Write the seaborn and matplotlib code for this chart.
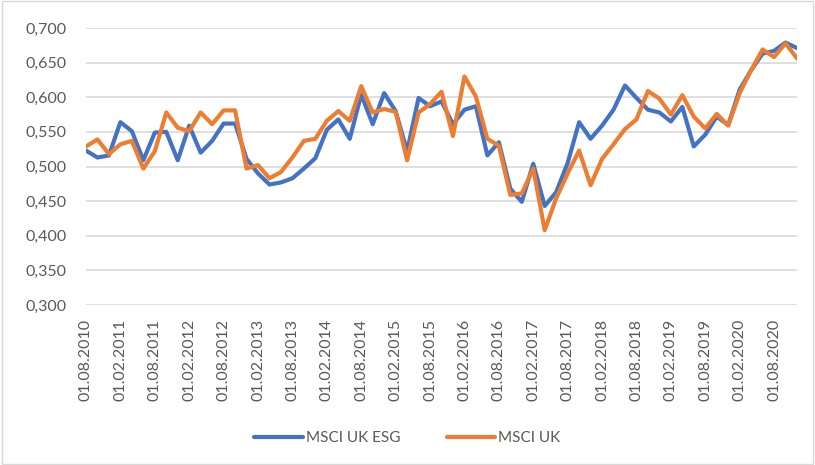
import matplotlib
matplotlib.use("Agg")
import matplotlib.pyplot as plt
from matplotlib.patches import Rectangle
from matplotlib.ticker import FuncFormatter
import pandas as pd
import seaborn as sns

# bimonthly observations, Aug 2010 .. Dec 2020
dates = pd.date_range("2010-08-01", "2020-12-01", freq="2MS")
date_labels = [d.strftime("%d.%m.%Y") for d in dates]

msci_uk_esg = [0.523, 0.513, 0.516, 0.564, 0.551, 0.509, 0.549, 0.550, 0.509, 0.559,
               0.520, 0.537, 0.562, 0.562, 0.511, 0.490, 0.474, 0.477, 0.483, 0.497,
               0.512, 0.553, 0.568, 0.540, 0.604, 0.561, 0.606, 0.580, 0.522, 0.599,
               0.587, 0.594, 0.561, 0.582, 0.587, 0.516, 0.535, 0.468, 0.449, 0.504,
               0.443, 0.463, 0.505, 0.564, 0.540, 0.559, 0.582, 0.617, 0.599, 0.582,
               0.578, 0.565, 0.586, 0.529, 0.546, 0.572, 0.560, 0.611, 0.639, 0.663,
               0.667, 0.679, 0.671]
msci_uk = [0.529, 0.539, 0.518, 0.532, 0.537, 0.497, 0.522, 0.578, 0.556, 0.551,
           0.578, 0.561, 0.581, 0.581, 0.497, 0.502, 0.483, 0.492, 0.513, 0.537,
           0.540, 0.566, 0.580, 0.566, 0.616, 0.578, 0.583, 0.579, 0.509, 0.578,
           0.590, 0.608, 0.544, 0.630, 0.601, 0.540, 0.530, 0.459, 0.461, 0.497,
           0.408, 0.454, 0.490, 0.523, 0.473, 0.511, 0.532, 0.554, 0.568, 0.609,
           0.598, 0.575, 0.603, 0.572, 0.555, 0.576, 0.559, 0.606, 0.639, 0.669,
           0.658, 0.678, 0.656]

series_names = ["MSCI UK ESG", "MSCI UK"]
colors = ["#4472C4", "#ED7D31"]

sns.set_style("white")
plt.rcParams["font.family"] = ["Lato", "DejaVu Sans"]
text_color = "#595959"

fig = plt.figure(figsize=(8.15, 4.65), dpi=100)
ax = fig.add_axes([86 / 815, 1 - 305 / 465, (797 - 86) / 815, (305 - 28) / 465])

idx = list(range(len(dates)))
for name, vals, c in zip(series_names, [msci_uk_esg, msci_uk], colors):
    sns.lineplot(x=idx, y=vals, ax=ax, color=c, linewidth=3.0, label=name)

ax.set_xlim(0, len(dates) - 1)
ax.set_ylim(0.3, 0.7)
ax.set_yticks([0.3 + 0.05 * k for k in range(9)])
ax.yaxis.set_major_formatter(FuncFormatter(lambda v, p: f"{v:.3f}".replace(".", ",")))
ax.set_xticks(idx[::3])
ax.set_xticklabels(date_labels[::3], rotation=90)
ax.tick_params(axis="both", length=0, labelsize=11.5, labelcolor=text_color)
ax.tick_params(axis="y", pad=14)
ax.tick_params(axis="x", pad=10)
ax.grid(axis="y", color="#D9D9D9", linewidth=1.2)
ax.set_axisbelow(True)
for s in ax.spines.values():
    s.set_visible(False)

ax.get_legend().remove()
handles, labels = ax.get_legend_handles_labels()
fig.legend(handles, labels, loc="center", bbox_to_anchor=(0.5, 1 - 438 / 465), ncol=2,
           frameon=False, fontsize=11, handlelength=3.2, handletextpad=0.2,
           columnspacing=3.0, labelcolor=text_color)

fig.patches.append(Rectangle((0.002, 0.003), 0.996, 0.994, transform=fig.transFigure,
                             fill=False, edgecolor="#D9D9D9", linewidth=1))

fig.savefig("out.png", dpi=100)
